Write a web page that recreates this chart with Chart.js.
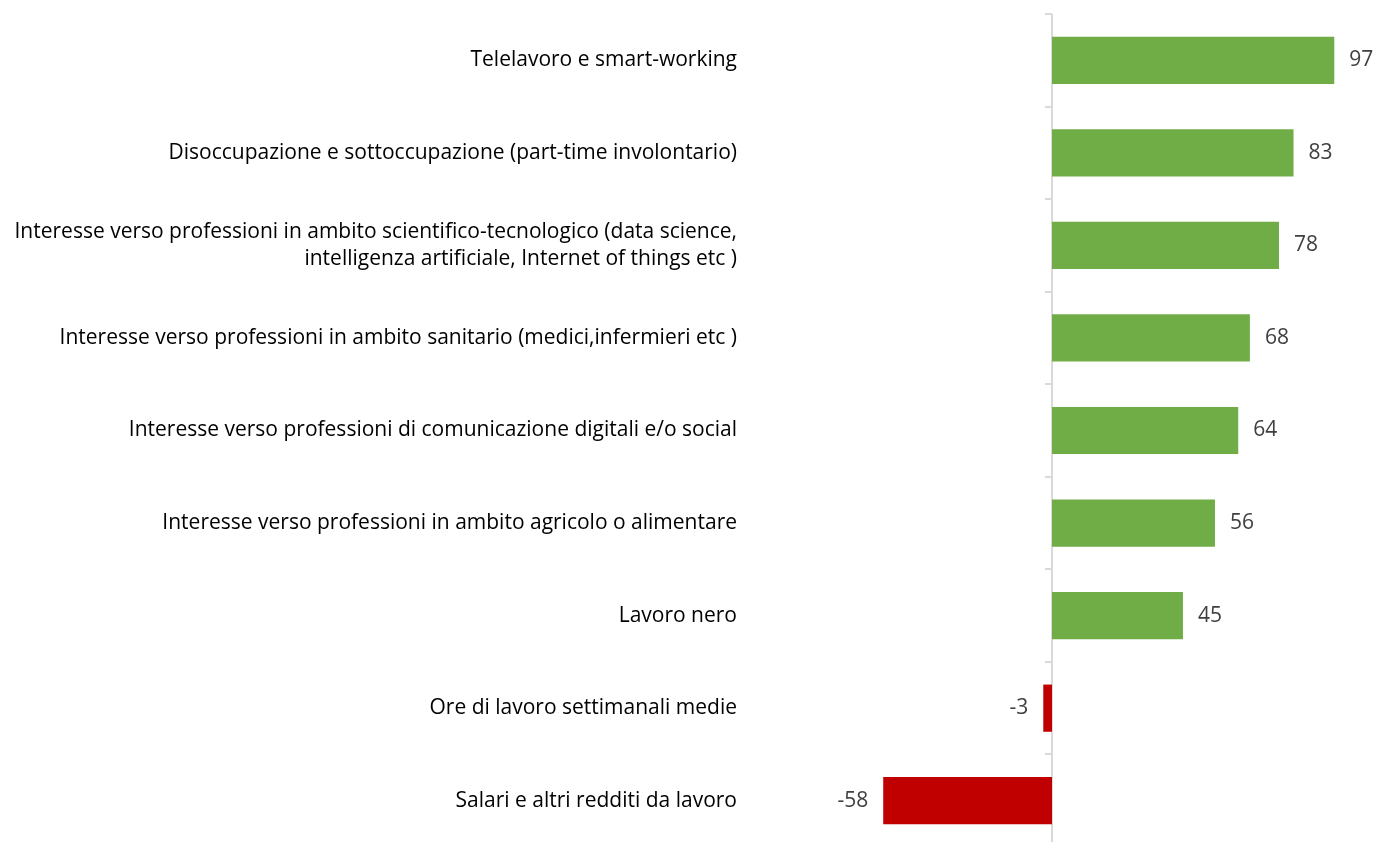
<!DOCTYPE html>
<html>
<head>
<meta charset="utf-8">
<script src="https://cdn.jsdelivr.net/npm/chart.js@4.4.1/dist/chart.umd.min.js"></script>
<style>
  html, body { margin: 0; padding: 0; background: #ffffff; overflow: hidden; }
  #wrap { width: 1378px; height: 848px; position: relative; }
</style>
</head>
<body>
<div id="wrap"><canvas id="c"></canvas></div>
<script>
const categories = [
  'Telelavoro e smart-working',
  'Disoccupazione e sottoccupazione (part-time involontario)',
  ['Interesse verso professioni in ambito scientifico-tecnologico (data science,', 'intelligenza artificiale, Internet of things etc )'],
  'Interesse verso professioni in ambito sanitario (medici,infermieri etc )',
  'Interesse verso professioni di comunicazione digitali e/o social',
  'Interesse verso professioni in ambito agricolo o alimentare',
  'Lavoro nero',
  'Ore di lavoro settimanali medie',
  'Salari e altri redditi da lavoro'
];
const values = [97, 83, 78, 68, 64, 56, 45, -3, -58];
const positiveColor = '#70AD47';
const negativeColor = '#C00000';
const FONT = '"Open Sans", sans-serif';

const axisPlugin = {
  id: 'zeroAxis',
  beforeDatasetsDraw(chart) {
    const { ctx, chartArea, scales } = chart;
    const x0 = scales.x.getPixelForValue(0);
    ctx.save();
    ctx.strokeStyle = '#d9d9d9';
    ctx.lineWidth = 2;
    ctx.beginPath();
    ctx.moveTo(x0, chartArea.top);
    ctx.lineTo(x0, chartArea.bottom);
    for (let i = 0; i <= categories.length; i++) {
      const y = Math.round(scales.y.getPixelForValue(i - 0.5));
      ctx.moveTo(x0 - 7, y);
      ctx.lineTo(x0, y);
    }
    ctx.stroke();
    ctx.restore();
  }
};

const valueLabelPlugin = {
  id: 'valueLabels',
  afterDatasetsDraw(chart) {
    const { ctx } = chart;
    const meta = chart.getDatasetMeta(0);
    ctx.save();
    ctx.font = '21px ' + FONT;
    ctx.fillStyle = '#404040';
    ctx.textBaseline = 'middle';
    meta.data.forEach((bar, i) => {
      const v = values[i];
      if (v >= 0) {
        ctx.textAlign = 'left';
        ctx.fillText(String(v), bar.x + 15, bar.y);
      } else {
        ctx.textAlign = 'right';
        ctx.fillText(String(v), bar.x - 15, bar.y);
      }
    });
    ctx.restore();
  }
};

new Chart(document.getElementById('c'), {
  type: 'bar',
  data: {
    labels: categories,
    datasets: [{
      data: values,
      backgroundColor: values.map(v => v >= 0 ? positiveColor : negativeColor),
      borderWidth: 0,
      barPercentage: 0.51,
      categoryPercentage: 1
    }]
  },
  options: {
    indexAxis: 'y',
    responsive: true,
    maintainAspectRatio: false,
    animation: false,
    layout: { padding: { top: 14, bottom: 1, left: 0, right: 35 } },
    plugins: { legend: { display: false }, tooltip: { enabled: false } },
    scales: {
      x: { display: false, min: -100, max: 100 },
      y: {
        position: 'left',
        grid: { display: false, drawTicks: false },
        border: { display: false },
        ticks: {
          color: '#000000',
          padding: 24,
          font: { family: FONT, size: 21, lineHeight: 1.3 }
        },
        afterFit(scale) {
          scale.width = 761;
          scale.paddingTop = 0;
          scale.paddingBottom = 0;
        }
      }
    }
  },
  plugins: [axisPlugin, valueLabelPlugin]
});
</script>
</body>
</html>
